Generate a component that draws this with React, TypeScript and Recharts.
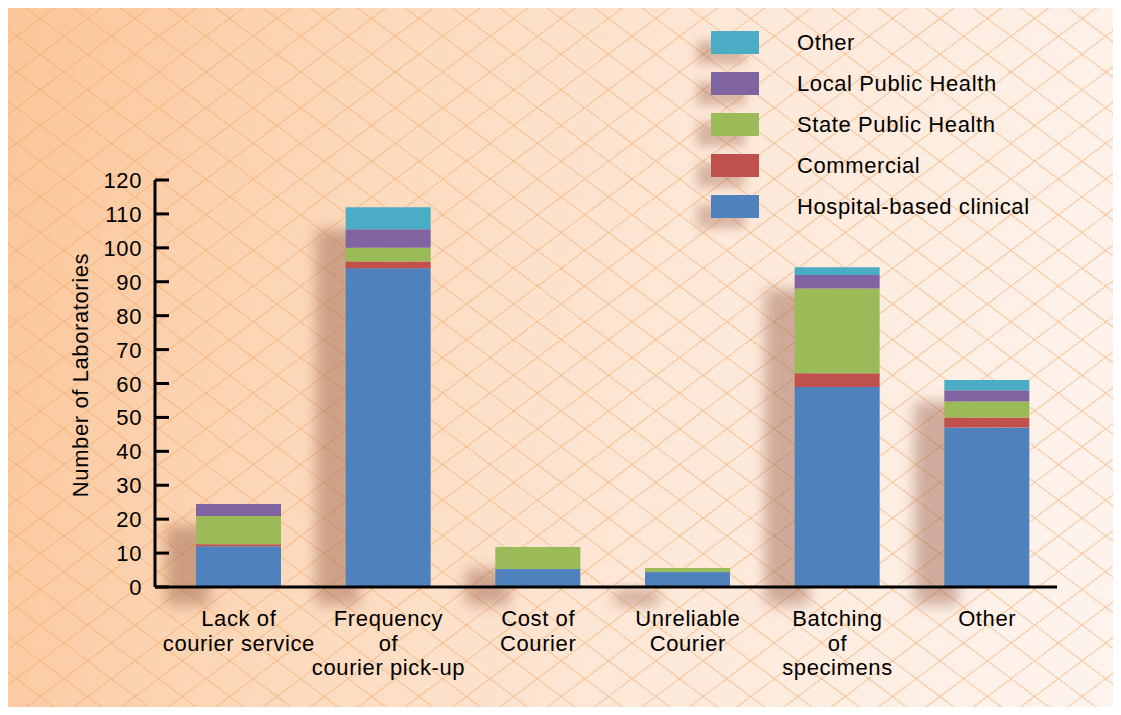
import React from 'react'
import { BarChart, Bar, XAxis, YAxis } from 'recharts'

const categories = ['Lack of courier service', 'Frequency of courier pick-up', 'Cost of Courier', 'Unreliable Courier', 'Batching of specimens', 'Other']
const categoryLines = [
  ['Lack of', 'courier service'],
  ['Frequency', 'of', 'courier pick-up'],
  ['Cost of', 'Courier'],
  ['Unreliable', 'Courier'],
  ['Batching', 'of', 'specimens'],
  ['Other'],
]

const hospital = [12, 94, 5.3, 4.4, 59, 47]
const commercial = [0.6, 2, 0, 0, 4, 3]
const statePH = [8.3, 4, 6.5, 1.2, 25, 4.7]
const localPH = [3.6, 5.5, 0, 0, 4, 3.3]
const other = [0, 6.5, 0, 0, 2.3, 3]

const yTicks = [0, 10, 20, 30, 40, 50, 60, 70, 80, 90, 100, 110, 120]

const series = [
  { key: 'hospital', name: 'Hospital-based clinical', color: '#4f81bd' },
  { key: 'commercial', name: 'Commercial', color: '#c0504d' },
  { key: 'statePH', name: 'State Public Health', color: '#9bbb59' },
  { key: 'localPH', name: 'Local Public Health', color: '#8064a2' },
  { key: 'other', name: 'Other', color: '#4bacc6' },
]

const data = categories.map((c, i) => ({
  name: c,
  hospital: hospital[i],
  commercial: commercial[i],
  statePH: statePH[i],
  localPH: localPH[i],
  other: other[i],
}))

const FONT = '"Liberation Sans", Arial, Helvetica, sans-serif'
const FS = 22
const LS = 0.6

function YTick(props: any) {
  const { x, y, payload } = props
  return (
    <g>
      <line x1={x} x2={x + 14} y1={y} y2={y} stroke="#000" strokeWidth={3} />
      <text x={x - 13} y={y} dy={8} textAnchor="end" fontSize={FS} letterSpacing={LS} fontFamily={FONT} fill="#000">
        {payload.value}
      </text>
    </g>
  )
}

function XTick(props: any) {
  const { x, y, payload, index } = props
  const lines = categoryLines[index] || [payload.value]
  return (
    <text x={x} y={y} textAnchor="middle" fontSize={FS} letterSpacing={LS} fontFamily={FONT} fill="#000">
      {lines.map((l: string, i: number) => (
        <tspan key={i} x={x} dy={i === 0 ? 39 : 24.5}>{l}</tspan>
      ))}
    </text>
  )
}

// shadow drawn behind each stack, then the base segment
function ShadowBar(props: any) {
  const { x, y, width, height, payload, fill } = props
  const total = payload.hospital + payload.commercial + payload.statePH + payload.localPH + payload.other
  const ppu = payload.hospital > 0 ? height / payload.hospital : 0
  const top = y + height - total * ppu
  return (
    <g>
      <rect x={x - 30} y={top + 22} width={44} height={y + height - top - 4} fill="rgba(150,90,70,0.45)" filter="url(#blurShadow)" />
      <rect x={x} y={y} width={width} height={height} fill={fill} />
    </g>
  )
}

function LegendBox() {
  const items = [...series].reverse()
  return (
    <div style={{ position: 'absolute', left: 703, top: 14, fontFamily: FONT, fontSize: FS, letterSpacing: LS, color: '#000' }}>
      {items.map((s) => (
        <div key={s.key} style={{ display: 'flex', alignItems: 'center', height: 41 }}>
          <div style={{ width: 48, height: 23, background: s.color, boxShadow: '-14px 10px 10px rgba(150,90,70,0.35)' }} />
          <span style={{ marginLeft: 38 }}>{s.name}</span>
        </div>
      ))}
    </div>
  )
}

export default function App() {
  return (
    <div
      style={{
        width: 1105,
        height: 699,
        position: 'relative',
        backgroundImage: [
          'repeating-linear-gradient(143deg, transparent 0px, transparent 27px, rgba(244,168,100,0.4) 27px, rgba(244,168,100,0.4) 28.5px)',
          'repeating-linear-gradient(37deg, transparent 0px, transparent 27px, rgba(244,168,100,0.4) 27px, rgba(244,168,100,0.4) 28.5px)',
          'linear-gradient(100deg, #fbc598 0%, #fcd9bb 30%, #fde8d8 60%, #fef4ee 100%)',
        ].join(','),
      }}
    >
      <BarChart
        width={1105}
        height={699}
        data={data}
        margin={{ top: 172, right: 56, bottom: 30, left: 87 }}
        barSize={85}
      >
        <defs>
          <filter id="blurShadow" x="-50%" y="-50%" width="200%" height="200%">
            <feGaussianBlur stdDeviation="7" />
          </filter>
        </defs>
        <XAxis
          dataKey="name"
          height={90}
          axisLine={{ stroke: '#000', strokeWidth: 3 }}
          tickLine={false}
          tickSize={0}
          tickMargin={0}
          tick={<XTick />}
          interval={0}
          padding={{ left: 9, right: -5 }}
        />
        <YAxis
          width={60}
          domain={[0, 120]}
          ticks={yTicks}
          interval={0}
          axisLine={{ stroke: '#000', strokeWidth: 3 }}
          tickLine={false}
          tickSize={0}
          tickMargin={0}
          tick={<YTick />}
          label={{
            content: () => (
              <text x={80} y={367} transform="rotate(-90, 80, 367)" textAnchor="middle" fontSize={FS} letterSpacing={LS} fontFamily={FONT} fill="#000">
                Number of Laboratories
              </text>
            ),
          }}
        />
        {series.map((s) => (
          <Bar
            key={s.key}
            dataKey={s.key}
            name={s.name}
            stackId="a"
            fill={s.color}
            isAnimationActive={false}
            shape={s.key === 'hospital' ? <ShadowBar /> : undefined}
          />
        ))}
      </BarChart>
      <LegendBox />
    </div>
  )
}
